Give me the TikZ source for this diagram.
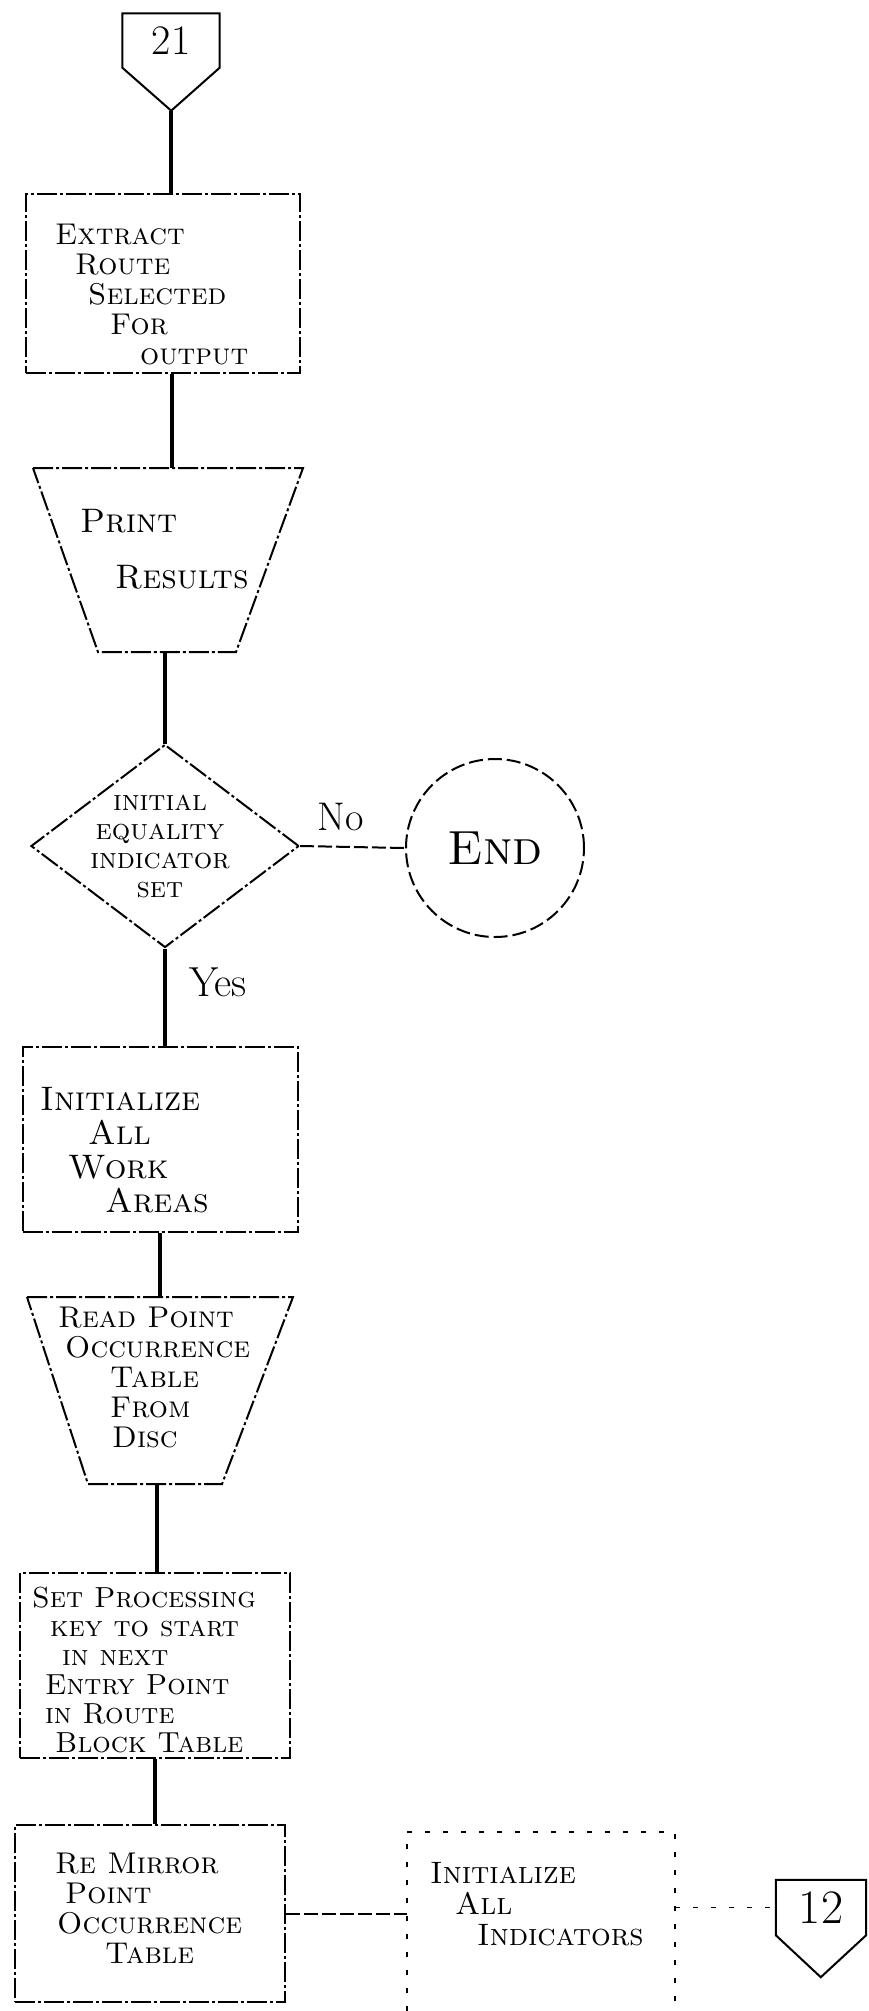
\documentclass[tikz,border=0pt]{standalone}
\usepackage{tikz}
\usetikzlibrary{shapes.geometric, positioning, calc}

\begin{document}
\begin{tikzpicture}[
    x=1pt, y=-1pt,
    outline/.style={line width=2pt, dash pattern=on 20pt off 3pt on 3pt off 3pt},
    box/.style={draw, outline, inner sep=0pt},
    decision/.style={draw, outline, diamond, minimum width=268, minimum height=203, inner sep=0pt},
    terminal/.style={draw, line width=2pt, dash pattern=on 14pt off 5pt, circle, minimum size=178, inner sep=0pt, font=\fontsize{48}{48}\selectfont\scshape},
    offpage/.style={minimum width=97, minimum height=54, inner sep=0pt, font=\fontsize{42}{42}\selectfont},
    lbl/.style={align=left, inner sep=0pt, anchor=north west, font=\fontsize{#1}{#1}\selectfont\scshape},
    lbl/.default=30,
    flow/.style={line width=3.5pt},
    dashflow/.style={line width=2pt, dash pattern=on 14pt off 4pt},
    faint/.style={line width=1.6pt, dash pattern=on 5pt off 13pt}
]
    \path[use as bounding box, fill=white] (0,0) rectangle (869,2011);

    % Entry connector
    \node[offpage] (c21) at (171,40.5) {21};
    \draw[line width=2pt] (c21.north west) -- (c21.north east) -- (c21.south east)
        -- ++(-48.5,43) coordinate (c21tip) -- (c21.south west) -- cycle;

    % Extract
    \node[box, minimum width=274, minimum height=179] (extract) at (163,283.5) {};
    \node[lbl=30] (extractlbl) at (55,224) {Extract\\\hspace*{20pt}Route\\\hspace*{33pt}Selected\\\hspace*{55pt}For\\\hspace*{85pt}output};

    % Print
    \draw[outline] (33,468) -- (303,468) -- (236,652) -- (98,652) -- cycle;
    \coordinate (printtop) at (172,468);
    \coordinate (printbot) at (165,652);
    \node[lbl=34] (printlbl) at (80,509) {Print\\[22pt]\hspace*{35pt}Results};

    % Decision
    \node[decision] (equal) at (165,846) {};
    \node[lbl=29, align=center, anchor=center] (equallbl) at (160,846) {initial\\equality\\indicator\\set};
    \node[font=\fontsize{40}{40}\selectfont] (nolbl) at (341,817) {No};
    \node[font=\fontsize{42}{42}\selectfont] (yeslbl) at (218,982) {Yes};
    \node[terminal] (end) at (495,848) {End};

    % Work areas
    \node[box, minimum width=275, minimum height=185] (init) at (160,1139.5) {};
    \node[lbl=34] (initlbl) at (40,1087) {Initialize\\\hspace*{48pt}All\\\hspace*{28pt}Work\\\hspace*{65pt}Areas};

    % Read table
    \draw[outline] (27,1297) -- (293,1297) -- (222,1484) -- (88,1484) -- cycle;
    \coordinate (readtop) at (160,1297);
    \coordinate (readbot) at (157,1484);
    \node[lbl=30] (readlbl) at (58,1307) {Read Point\\\hspace*{7pt}Occurrence\\\hspace*{52pt}Table\\\hspace*{52pt}From\\\hspace*{54pt}Disc};

    % Processing key
    \node[box, minimum width=270, minimum height=185] (setkey) at (155,1665.5) {};
    \node[lbl=29] (setkeylbl) at (32,1587) {Set Processing\\\hspace*{18pt}key to start\\\hspace*{30pt}in next\\\hspace*{13pt}Entry Point\\\hspace*{13pt}in Route\\\hspace*{23pt}Block Table};

    % Re mirror
    \node[box, minimum width=270, minimum height=177] (remirror) at (150,1913.5) {};
    \node[lbl=30] (remirrorlbl) at (55,1853) {Re Mirror\\\hspace*{10pt}Point\\\hspace*{2pt}Occurrence\\\hspace*{50pt}Table};

    % Indicators
    \node[minimum width=268, minimum height=179, inner sep=0pt] (ind) at (541,1921.5) {};
    \draw[faint] (ind.south west) -- (ind.north west) -- (ind.north east) -- (ind.south east);
    \node[lbl=31] (indlbl) at (430,1862) {Initialize\\\hspace*{25pt}All\\\hspace*{47pt}Indicators};

    % Exit connector
    \node[offpage, minimum width=90, minimum height=55, font=\fontsize{48}{48}\selectfont] (c12) at (821,1907.5) {12};
    \draw[line width=2pt] (c12.north east) -- (c12.north west) -- (c12.south west)
        -- ++(45,42) -- (c12.south east) -- cycle;

    % Flow lines
    \draw[flow] (c21tip) -- (c21tip |- extract.north);
    \draw[flow] (printtop |- extract.south) -- (printtop);
    \draw[flow] (printbot) -- (equal.north);
    \draw[dashflow] (equal.east) -- (end.west);
    \draw[flow] (equal.south) -- (equal.south |- init.north);
    \draw[flow] (readtop |- init.south) -- (readtop);
    \draw[flow] (readbot) -- (readbot |- setkey.north);
    \draw[flow] (setkey.south) -- (setkey.south |- remirror.north);
    \draw[dashflow] (remirror.east) -- (remirror.east -| ind.west);
    \draw[faint] (ind.east |- c12.west) -- (c12.west);
\end{tikzpicture}
\end{document}
